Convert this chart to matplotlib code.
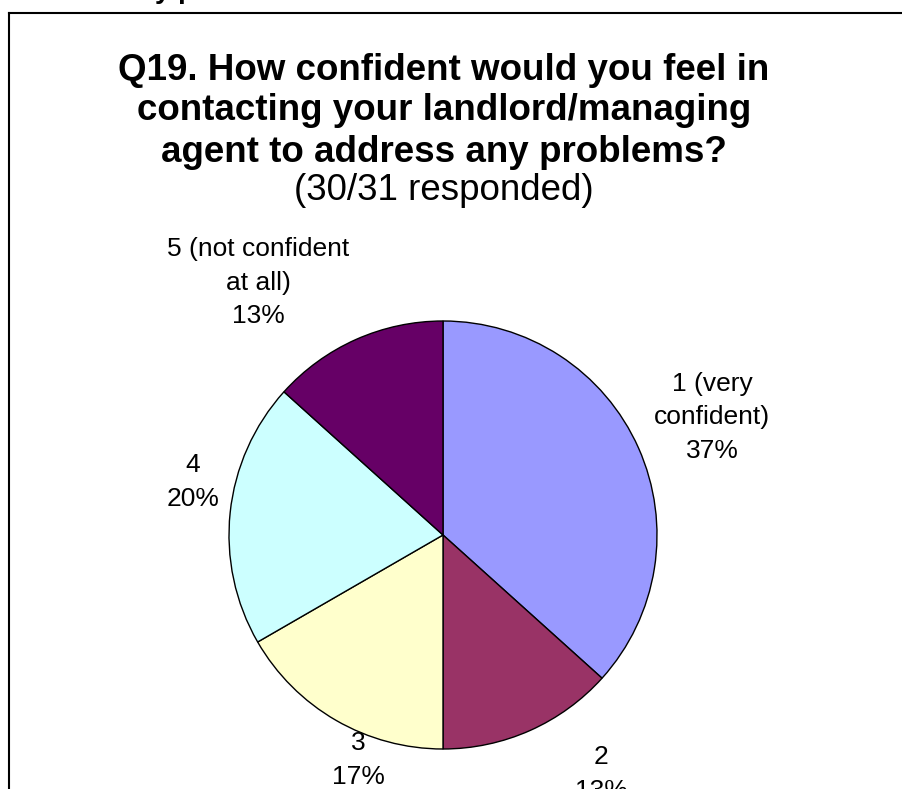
import matplotlib
matplotlib.use("Agg")
import matplotlib.pyplot as plt
from matplotlib.lines import Line2D
import numpy as np

plt.rcParams['font.family'] = ['Liberation Sans', 'DejaVu Sans']

# --- dados ---
categories = ["1 (very\nconfident)", "2", "3", "4", "5 (not confident\nat all)"]
counts = [11, 4, 5, 6, 4]
colors = ["#9999FF", "#993366", "#FFFFCC", "#CCFFFF", "#660066"]

title_lines = ["Q19. How confident would you feel in",
               "contacting your landlord/managing",
               "agent to address any problems?"]
subtitle = "(30/31 responded)"

W, H = 903, 789
fig = plt.figure(figsize=(W / 100, H / 100), dpi=100)

def fx(px):
    return px / W

def fy(py):
    return 1 - py / H

# moldura cortada
fig.add_artist(Line2D([fx(9), 1], [fy(13), fy(13)], color="black", lw=1.5))
fig.add_artist(Line2D([fx(9), fx(9)], [fy(13), 0], color="black", lw=1.5))

# texto cortado no topo
fig.text(fx(155), 1 + 2.5 / H, "y p", fontsize=20, fontweight="bold", va="baseline", ha="left")

# titulo
for i, line in enumerate(title_lines):
    fig.text(fx(444), fy(70 + 41 * i), line, fontsize=26.5, fontweight="bold",
             ha="center", va="center")
fig.text(fx(444), fy(190), subtitle, fontsize=26.5, ha="center", va="center")

# --- pizza ---
cx, cy, r = 443, 535, 214
ax = fig.add_axes([fx(cx - r), 1 - (cy + r) / H, 2 * r / W, 2 * r / H])
wedges, _ = ax.pie(counts, colors=colors, startangle=90, counterclock=False,
                   wedgeprops=dict(edgecolor="black", linewidth=1))
ax.set_xlim(-1, 1)
ax.set_ylim(-1, 1)
ax.set_aspect("equal")
ax.axis("off")

total = sum(counts)
pcts = [round(c / total * 100) for c in counts]
label_pos = [(1.257, 0.551), (0.738, -1.117), (-0.397, -1.051), (-1.168, 0.248), (-0.864, 1.178)]
for cat, p, (lx, ly) in zip(categories, pcts, label_pos):
    ax.text(lx, ly, f"{cat}\n{p}%", ha="center", va="center", fontsize=19,
            linespacing=1.5, clip_on=False)

fig.savefig("out.png", dpi=100)
